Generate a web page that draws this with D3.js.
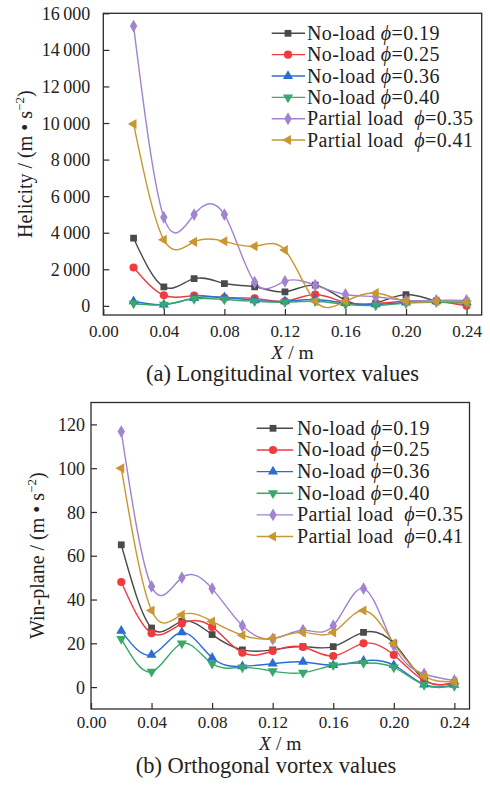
<!DOCTYPE html>
<html>
<head>
<meta charset="utf-8">
<script src="https://cdn.jsdelivr.net/npm/d3@7"></script>
<style>
  html, body { margin: 0; padding: 0; background: #fff; }
  svg { display: block; }
  text { font-family: "Liberation Serif", "Times New Roman", serif; fill: #222; }
</style>
</head>
<body>
<svg id="chart" width="490" height="785"></svg>
<script>
// ---------- data ----------
const xValues = [0.02, 0.04, 0.06, 0.08, 0.10, 0.12, 0.14, 0.16, 0.18, 0.20, 0.22, 0.24];
const xTicks = [0.00, 0.04, 0.08, 0.12, 0.16, 0.20, 0.24];

const seriesNames = ["No-load", "No-load", "No-load", "No-load", "Partial load", "Partial load"];
const seriesPhi = ["0.19", "0.25", "0.36", "0.40", "0.35", "0.41"];
const seriesColors = ["#4a4a4a", "#ef3b3f", "#2a6fd0", "#38a96a", "#a183cf", "#c9962f"];
const seriesShapes = ["square", "circle", "triUp", "triDown", "diamond", "triLeft"];

// (a) Longitudinal vortex values — Helicity
const helNoload019 = [3700, 1040, 1490, 1220, 1040, 770, 1130, 300, 150, 620, 270, 200];
const helNoload025 = [2100, 580, 560, 440, 410, 250, 620, 180, 120, 250, 250, 0];
const helNoload036 = [250, 70, 420, 470, 300, 250, 350, 150, 80, 180, 250, 200];
const helNoload040 = [130, 70, 380, 350, 250, 200, 250, 80, 20, 150, 200, 150];
const helPartial035 = [15300, 4840, 4990, 4990, 1290, 1340, 1130, 620, 500, 300, 300, 300];
const helPartial041 = [9950, 3620, 3500, 3530, 3260, 3050, 250, 250, 700, 250, 250, 200];
const helTicks = [0, 2000, 4000, 6000, 8000, 10000, 12000, 14000, 16000];

// (b) Orthogonal vortex values — Win-plane
const winNoload019 = [65, 27, 30, 24, 17, 17, 18.5, 18.5, 25, 20, 3.5, 2];
const winNoload025 = [48, 24.6, 29, 27.5, 15.7, 16.5, 18.3, 14.2, 20, 14.7, 3, 1.5];
const winNoload036 = [25.7, 14.7, 25, 13.4, 9.5, 10.7, 11.5, 10, 12, 10, 1.2, 1];
const winNoload040 = [22, 7, 20, 10.7, 9, 7.3, 6.6, 10, 11, 9, 1, 0.5];
const winPartial035 = [116.7, 46, 50, 45, 28, 22, 26, 28, 45, 19, 6, 3];
const winPartial041 = [100, 35, 33, 30, 23.7, 22.3, 25, 25, 35, 20, 5, 2.5];
const winTicks = [0, 20, 40, 60, 80, 100, 120];

// ---------- drawing ----------
const svg = d3.select("#chart");

const fmtThousands = v => {
  if (v === 0) return "0";
  const s = String(v);
  return s.length > 3 ? s.slice(0, s.length - 3) + "\u2009" + s.slice(-3) : s;
};

function symbolPath(shape) {
  const g = d3.symbol();
  switch (shape) {
    case "square": return { d: g.type(d3.symbolSquare).size(46)(), rot: 0 };
    case "circle": return { d: g.type(d3.symbolCircle).size(52)(), rot: 0 };
    case "triUp": return { d: g.type(d3.symbolTriangle).size(44)(), rot: 0 };
    case "triDown": return { d: g.type(d3.symbolTriangle).size(44)(), rot: 180 };
    case "triLeft": return { d: g.type(d3.symbolTriangle).size(44)(), rot: -90 };
    case "diamond": return { d: g.type(d3.symbolDiamond).size(48)(), rot: 0 };
  }
}

function drawPanel(cfg) {
  const { left, right, top, bottom, yDomain, yTicks, yFmt, series, legend,
          yTitle, yTitleX, caption, captionX, tickY, xTitleY, captionY, yTickFont } = cfg;
  const g = svg.append("g");
  const x = d3.scaleLinear().domain([0, 0.25]).range([left, right]);
  const y = d3.scaleLinear().domain(yDomain).range([bottom, top]);

  // frame
  g.append("rect").attr("x", left).attr("y", top)
    .attr("width", right - left).attr("height", bottom - top)
    .attr("fill", "none").attr("stroke", "#2b2b2b").attr("stroke-width", 1.3);

  // axes (inward ticks)
  const xAxis = d3.axisBottom(x).tickValues(xTicks).tickSize(-6).tickPadding(0)
    .tickFormat(d3.format(".2f"));
  const xg = g.append("g").attr("transform", `translate(0,${bottom})`).call(xAxis);
  xg.select(".domain").remove();
  xg.selectAll(".tick line").attr("stroke", "#2b2b2b").attr("stroke-width", 1.2);
  xg.selectAll(".tick text").attr("y", tickY).attr("dy", 0)
    .style("font-size", "17px").style("font-family", "Liberation Serif").attr("fill", "#222");

  const yAxis = d3.axisLeft(y).tickValues(yTicks).tickSize(-6).tickPadding(0).tickFormat(yFmt);
  const yg = g.append("g").attr("transform", `translate(${left},0)`).call(yAxis);
  yg.select(".domain").remove();
  yg.selectAll(".tick line").attr("stroke", "#2b2b2b").attr("stroke-width", 1.2);
  yg.selectAll(".tick text").attr("x", cfg.yLabelX).attr("dy", "0.34em")
    .style("font-size", yTickFont).style("font-family", "Liberation Serif").attr("fill", "#222");

  // lines
  const line = d3.line().x((d, i) => x(xValues[i])).y(d => y(d)).curve(d3.curveNatural);
  const clipId = "clip" + Math.round(top);
  g.append("clipPath").attr("id", clipId).append("rect")
    .attr("x", left).attr("y", top).attr("width", right - left).attr("height", bottom - top);
  const plot = g.append("g").attr("clip-path", `url(#${clipId})`);

  series.forEach((vals, si) => {
    plot.append("path").datum(vals).attr("d", line)
      .attr("fill", "none").attr("stroke", seriesColors[si]).attr("stroke-width", 1.4);
  });
  series.forEach((vals, si) => {
    const s = symbolPath(seriesShapes[si]);
    plot.selectAll(null).data(vals).enter().append("path")
      .attr("d", s.d)
      .attr("transform", (d, i) => `translate(${x(xValues[i])},${y(d)}) rotate(${s.rot})`)
      .attr("fill", seriesColors[si]);
  });

  // legend
  seriesNames.forEach((name, si) => {
    const ly = legend.y0 + si * legend.dy;
    g.append("line").attr("x1", legend.x1).attr("x2", legend.x2).attr("y1", ly).attr("y2", ly)
      .attr("stroke", seriesColors[si]).attr("stroke-width", 1.4);
    const s = symbolPath(seriesShapes[si]);
    g.append("path").attr("d", s.d)
      .attr("transform", `translate(${legend.xm},${ly}) rotate(${s.rot})`)
      .attr("fill", seriesColors[si]);
    const t = g.append("text").attr("x", legend.xt).attr("y", ly + 6.5)
      .style("font-size", "20px").style("letter-spacing", "0.4px").style("white-space", "pre");
    t.append("tspan").text(name + (name === "No-load" ? " " : "  "));
    t.append("tspan").style("font-style", "italic").text("\u03D5");
    t.append("tspan").text("=" + seriesPhi[si]);
  });

  // y title
  const yt = g.append("text")
    .attr("transform", `translate(${yTitleX},${(top + bottom) / 2}) rotate(-90)`)
    .attr("text-anchor", "middle").style("font-size", "20px");
  yt.append("tspan").text(yTitle + " / (m \u2022 s");
  yt.append("tspan").attr("dy", -8).style("font-size", "13px").text("\u22122");
  yt.append("tspan").attr("dy", 8).text(")");

  // x title
  const xt = g.append("text").attr("x", (left + right) / 2).attr("y", xTitleY)
    .attr("text-anchor", "middle").style("font-size", "19.5px").style("white-space", "pre");
  xt.append("tspan").style("font-style", "italic").text("X");
  xt.append("tspan").text(" / m");

  // caption
  g.append("text").attr("x", captionX).attr("y", captionY)
    .attr("text-anchor", "middle").style("font-size", "22.5px").text(caption);
}

drawPanel({
  left: 103.3, right: 481.7, top: 13.3, bottom: 315,
  yDomain: [-500, 16000], yTicks: helTicks, yFmt: fmtThousands, yTickFont: "18px", yLabelX: -13,
  series: [helNoload019, helNoload025, helNoload036, helNoload040, helPartial035, helPartial041],
  legend: { x1: 271.7, x2: 305, xm: 288, xt: 307, y0: 33.3, dy: 21.35 },
  yTitle: "Helicity", yTitleX: 32,
  tickY: 22, xTitleY: 359, caption: "(a) Longitudinal vortex values", captionX: 282.5, captionY: 381
});

drawPanel({
  left: 91, right: 469.5, top: 402.5, bottom: 709,
  yDomain: [-10, 130], yTicks: winTicks, yFmt: d => String(d), yTickFont: "18px", yLabelX: -6,
  series: [winNoload019, winNoload025, winNoload036, winNoload040, winPartial035, winPartial041],
  legend: { x1: 256.7, x2: 293, xm: 273, xt: 297, y0: 428.3, dy: 21.65 },
  yTitle: "Win-plane", yTitleX: 44,
  tickY: 19, xTitleY: 750, caption: "(b) Orthogonal vortex values", captionX: 266, captionY: 773
});
</script>
</body>
</html>
